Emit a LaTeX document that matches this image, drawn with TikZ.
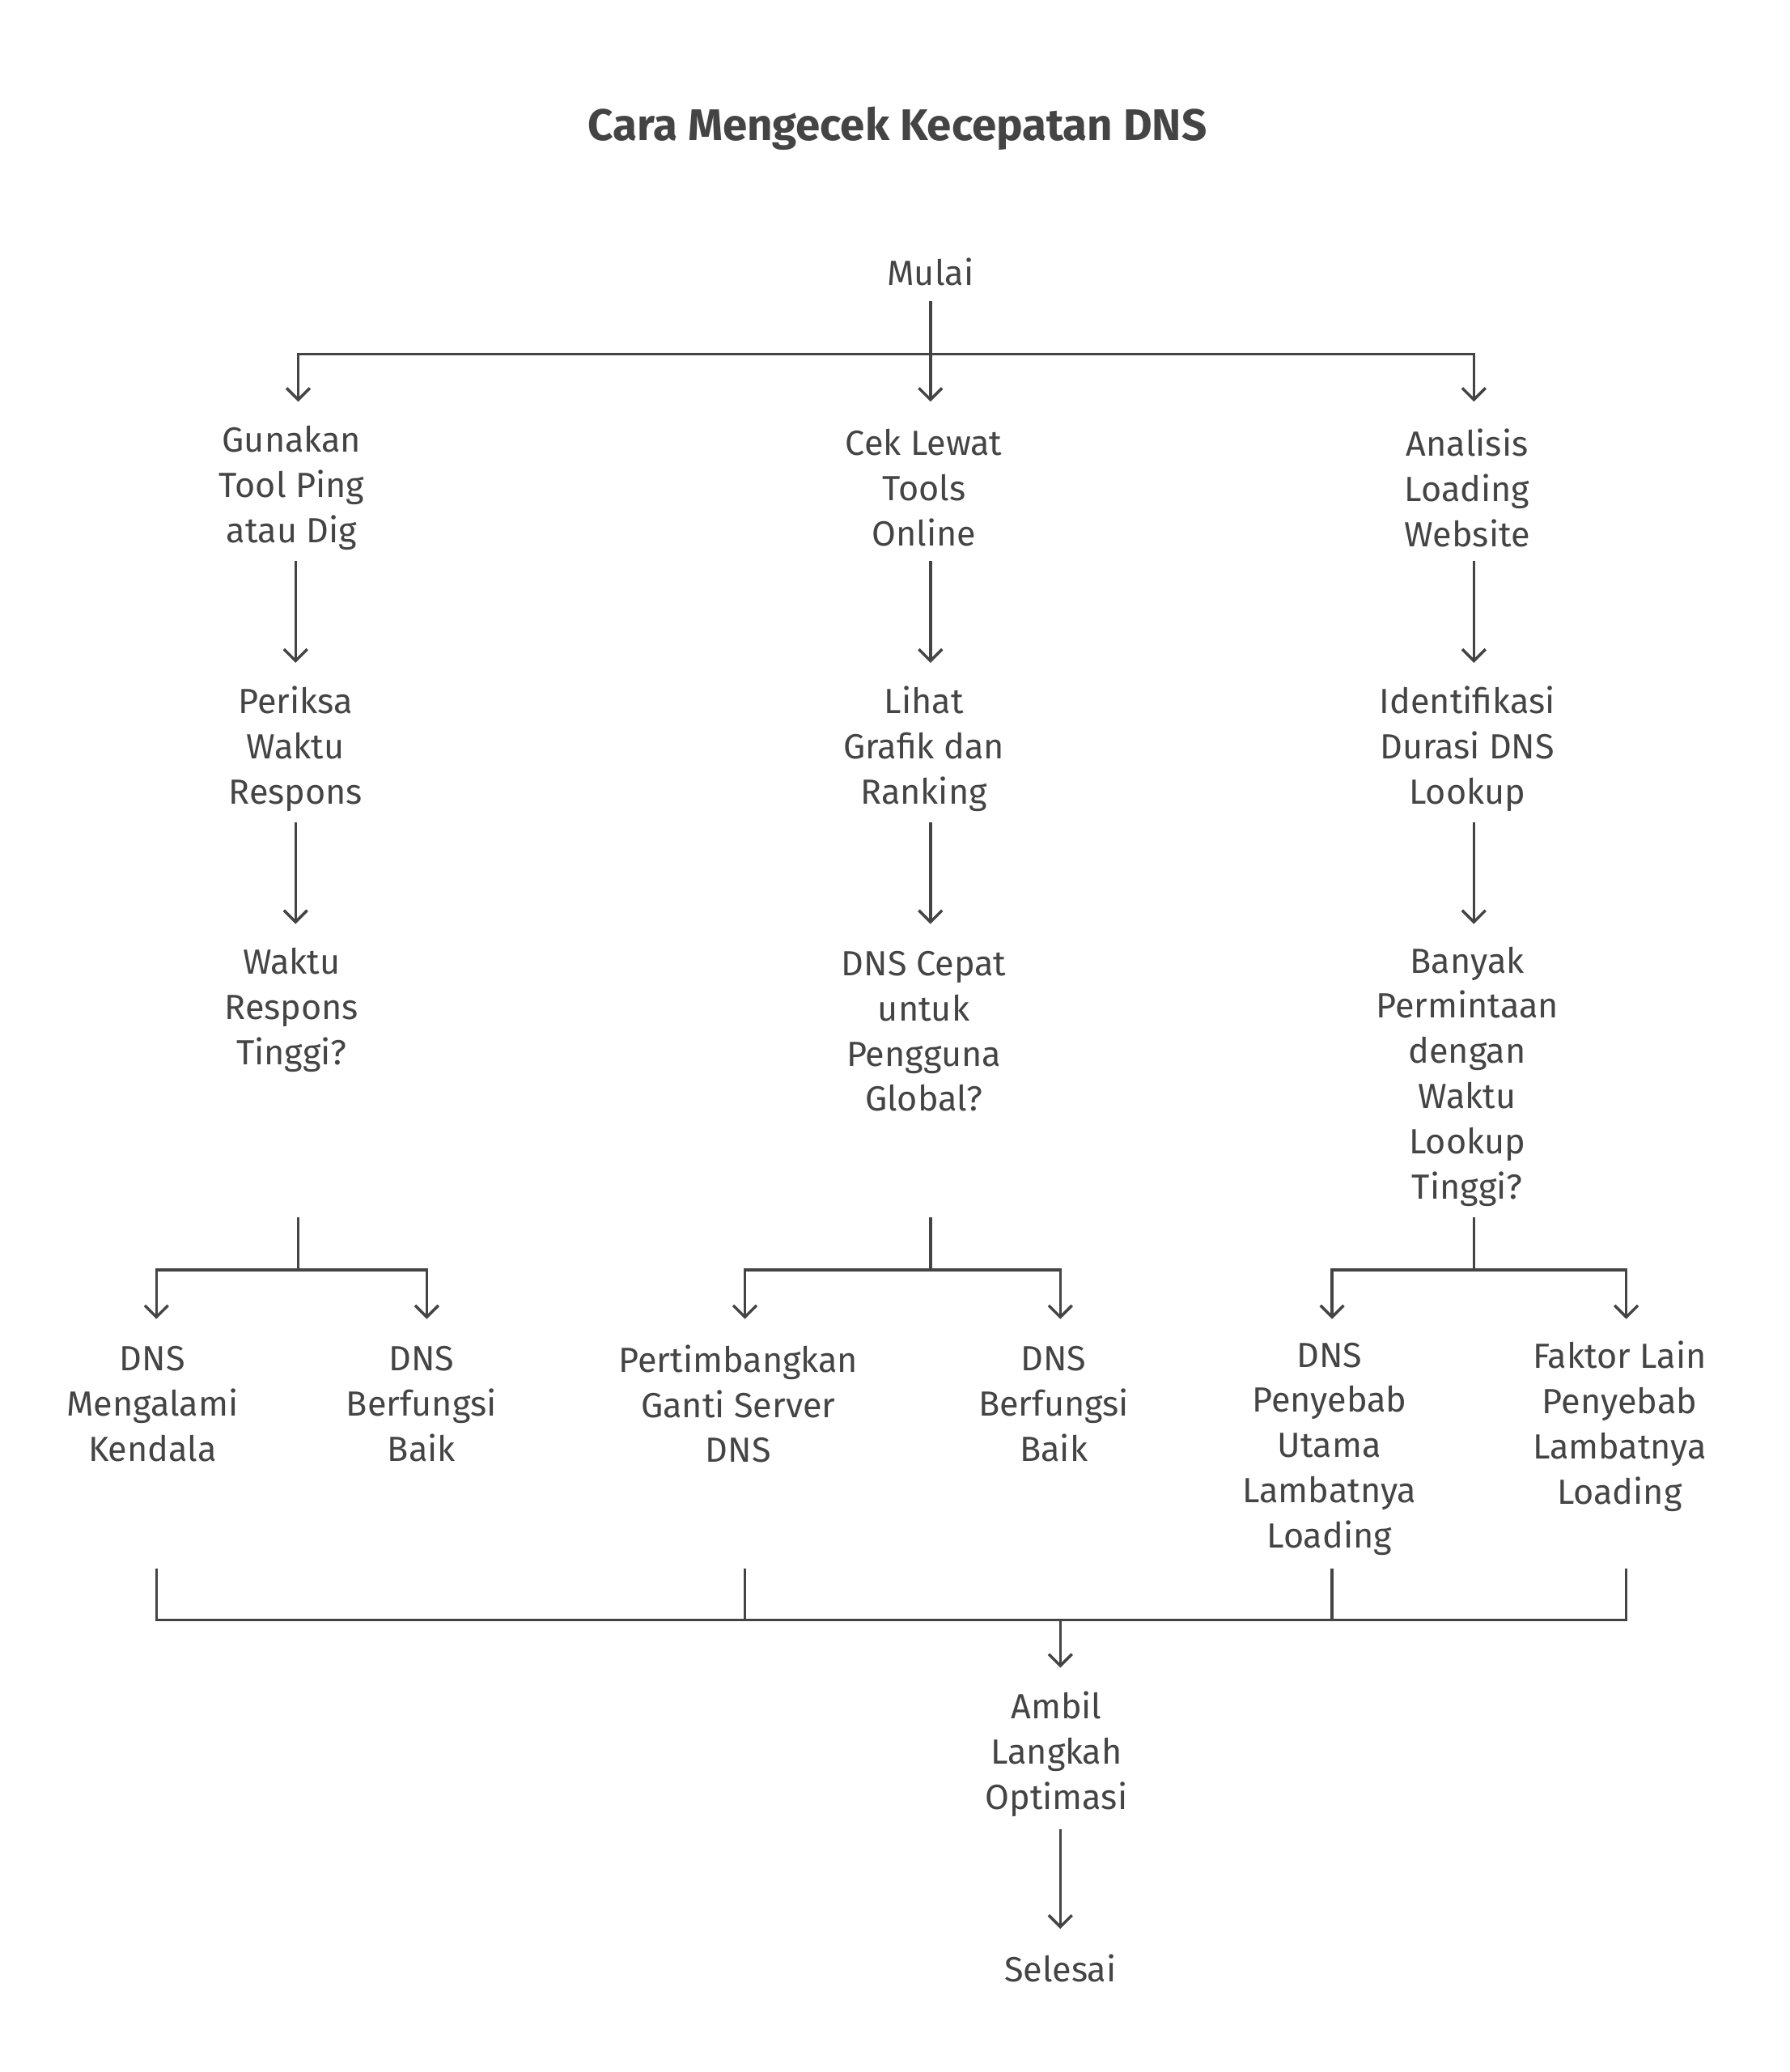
\documentclass[tikz,border=0pt]{standalone}
\usepackage{fontspec}
\setmainfont{Fira Sans}
\usetikzlibrary{arrows.meta,positioning}
\definecolor{ink}{HTML}{444444}
\tikzset{
  stage/.style = {align=center, text=ink, font=\fontsize{15}{19.4}\selectfont, inner sep=2pt},
  link/.style = {draw=ink, line width=1.2pt},
  arr/.style = {link, -{Straight Barb[length=5pt,width=10pt]}},
}
\begin{document}
\begin{tikzpicture}[x=0.02cm,y=-0.02cm]
  \useasboundingbox (0,0) rectangle (1350,1563);
  \node[stage, font=\fontsize{19}{23}\selectfont\bfseries] (title) at (677,97) {Cara Mengecek Kecepatan DNS};

  \node[stage] (start) at (702,205) {Mulai};
  \node[stage] (ping) at (220,368) {Gunakan\\Tool Ping\\atau Dig};
  \node[stage] (online) at (697,368) {Cek Lewat\\Tools\\Online};
  \node[stage] (web) at (1107,368) {Analisis\\Loading\\Website};
  \node[stage] (resp) at (223,565) {Periksa\\Waktu\\Respons};
  \node[stage] (graf) at (697,565) {Lihat\\Grafik dan\\Ranking};
  \node[stage] (durasi) at (1107,565) {Identifikasi\\Durasi DNS\\Lookup};
  \node[stage] (q1) at (220,762) {Waktu\\Respons\\Tinggi?};
  \node[stage] (q2) at (697,778) {DNS Cepat\\untuk\\Pengguna\\Global?};
  \node[stage] (q3) at (1107,812) {Banyak\\Permintaan\\dengan\\Waktu\\Lookup\\Tinggi?};
  \node[stage] (kendala) at (115,1059) {DNS\\Mengalami\\Kendala};
  \node[stage] (baik1) at (318,1059) {DNS\\Berfungsi\\Baik};
  \node[stage] (ganti) at (557,1059) {Pertimbangkan\\Ganti Server\\DNS};
  \node[stage] (baik2) at (795,1059) {DNS\\Berfungsi\\Baik};
  \node[stage] (utama) at (1003,1093) {DNS\\Penyebab\\Utama\\Lambatnya\\Loading};
  \node[stage] (lain) at (1222,1076) {Faktor Lain\\Penyebab\\Lambatnya\\Loading};
  \node[stage] (ambil) at (797,1323) {Ambil\\Langkah\\Optimasi};
  \node[stage] (end) at (800,1485) {Selesai};

  % top split
  \coordinate (s1) at (702,267);
  \draw[link] (702,227) -- (s1);
  \draw[arr] (s1) -| (225,303);
  \draw[arr] (s1) -- (702,303);
  \draw[arr] (s1) -| (1112,303);

  % columns
  \draw[arr] (223,423) -- (223,500);
  \draw[arr] (702,423) -- (702,500);
  \draw[arr] (1112,423) -- (1112,500);
  \draw[arr] (223,620) -- (223,697);
  \draw[arr] (702,620) -- (702,697);
  \draw[arr] (1112,620) -- (1112,697);

  % decisions
  \foreach \x/\l/\r in {225/118/322, 702/562/800, 1112/1005/1227} {
    \draw[link] (\x,918) -- (\x,958);
    \draw[arr] (\x,958) -| (\l,995);
    \draw[arr] (\x,958) -| (\r,995);
  }

  % merge
  \coordinate (join) at (800,1222);
  \foreach \x in {118,562,1005,1227}
    \draw[link] (\x,1183) |- (join);
  \draw[arr] (join) -- (800,1258);
  \draw[arr] (800,1380) -- (800,1455);
\end{tikzpicture}
\end{document}
